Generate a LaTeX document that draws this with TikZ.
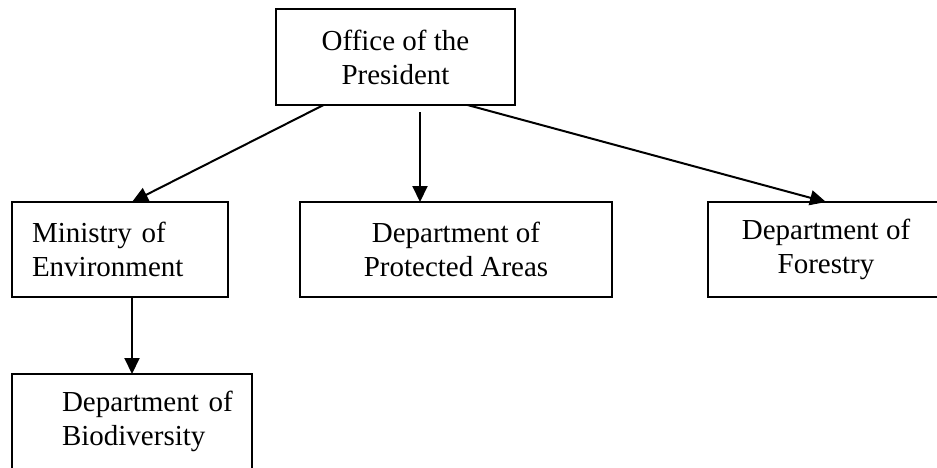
\documentclass[tikz,border=0pt]{standalone}
\usepackage{fontspec}
\setmainfont{Liberation Serif}
\usepackage{tikz}
\usetikzlibrary{positioning, arrows.meta}
\tikzset{
  orgbox/.style={
    rectangle, draw=black, line width=2pt, outer sep=0pt,
    minimum height=95pt, align=center,
    font=\fontsize{29pt}{34pt}\selectfont
  },
  leftbox/.style={
    orgbox, align=left, inner xsep=20pt, text width=#1
  },
  arrow/.style={-{Triangle[length=16pt, width=15pt]}, line width=2pt, color=black},
}

\begin{document}
\begin{tikzpicture}
  \useasboundingbox (0,0) rectangle (937pt,-467pt);

  \node[orgbox, minimum width=239pt, minimum height=96pt, anchor=north west] (office) at (276pt,-9pt)
    {Office of the\\President};

  \node[leftbox=176pt, below left=97pt and 48pt of office] (ministry)
    {Ministry of\\Environment};

  \node[orgbox, minimum width=312pt, below=97pt of office, xshift=60.5pt] (protected)
    {Department of\\Protected Areas};

  \node[orgbox, minimum width=236pt, below right=97pt and 193pt of office] (forestry)
    {Department of\\Forestry};

  \node[leftbox=220pt, inner xsep=10pt, below=77pt of ministry.south west, anchor=north west] (biodiv)
    {\hspace*{40pt}Department of\\\hspace*{40pt}Biodiversity};

  \draw[arrow] ([xshift=-72pt]office.south) -- (ministry.north -| biodiv.north);
  \draw[arrow] ([xshift=24.5pt,yshift=-7pt]office.south) -- ([xshift=-36pt]protected.north);
  \draw[arrow] ([xshift=72pt]office.south) -- (forestry.north);
  \draw[arrow] (ministry.south -| biodiv.north) -- (biodiv.north);

\end{tikzpicture}
\end{document}
